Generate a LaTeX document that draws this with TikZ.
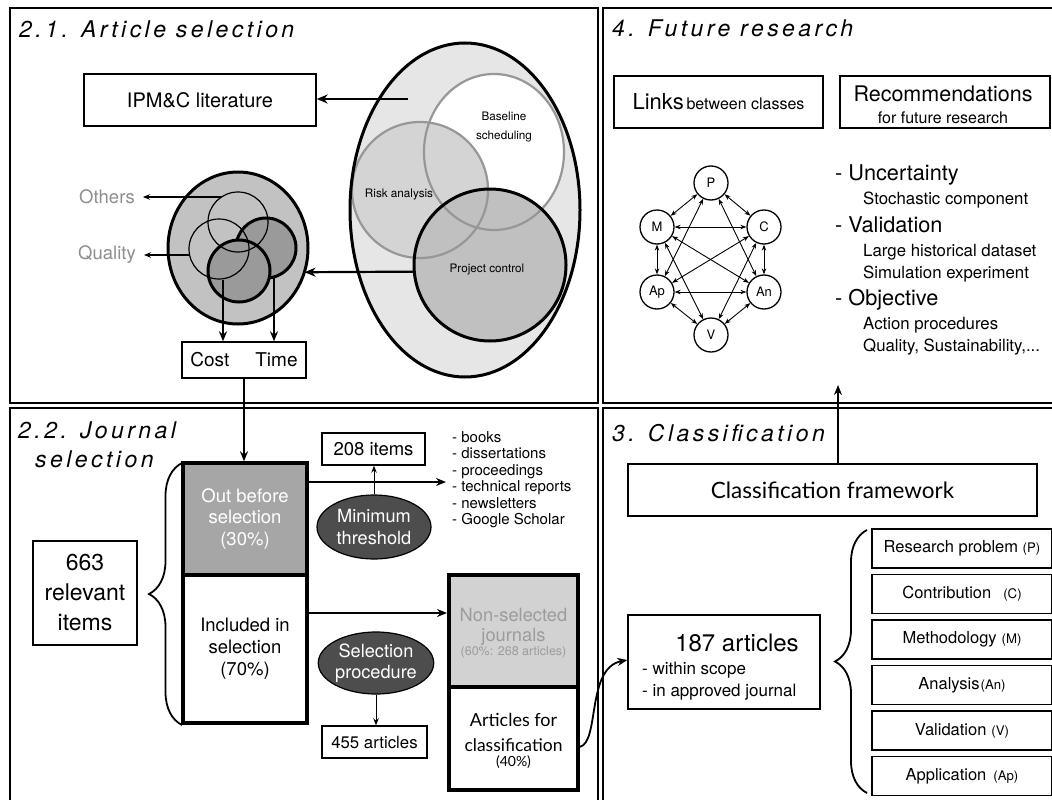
\documentclass[tikz,border=0pt]{standalone}
\usepackage{fontspec}
\setmainfont{TeX Gyre Heros}
\newfontfamily\titlefont[LetterSpace=15]{TeX Gyre Heros}
\newfontfamily\gill{Lato}
\usetikzlibrary{arrows.meta,shapes.geometric,decorations.pathreplacing}
\newcommand{\setfs}[2]{\fontsize{#1}{#2}\selectfont}
\newcommand{\smp}[1]{{\setfs{13.2}{14}#1}}
\definecolor{ellg}{HTML}{E6E6E6}
\definecolor{riskg}{HTML}{D4D4D4}
\definecolor{pcg}{HTML}{C0C0C0}
\definecolor{vennline}{HTML}{979797}
\definecolor{topicg}{HTML}{C2C2C2}
\definecolor{thickg}{HTML}{9A9A9A}
\definecolor{outg}{HTML}{A6A6A6}
\definecolor{nong}{HTML}{D2D2D2}
\definecolor{darkg}{HTML}{4D4D4D}
\definecolor{txtg}{HTML}{8E8E8E}
\definecolor{nontxt}{HTML}{9C9C9C}
\begin{document}
\begin{tikzpicture}[x=1pt,y=-1pt,
  panel/.style={draw, line width=2pt},
  thinbox/.style={draw, line width=1.4pt, inner sep=0pt, align=center},
  thickbox/.style={draw, line width=3.4pt, inner sep=0pt, align=center},
  darkell/.style={ellipse, draw, line width=1.2pt, fill=darkg, text=white, inner sep=0pt, align=center, font=\setfs{18.2}{21.5}},
  bigarrow/.style={line width=2.2pt, -{Stealth[length=11pt,width=9pt]}},
  midarrow/.style={line width=1.8pt, -{Stealth[length=10pt,width=8pt]}},
  smallarrow/.style={line width=1.2pt, -{Stealth[length=7pt,width=5.5pt]}},
  gnode/.style={circle, draw, line width=1.3pt, minimum size=34pt, inner sep=0pt, font=\setfs{13}{15}},
  gedge/.style={line width=0.9pt, {Stealth[length=6pt,width=4.5pt]}-{Stealth[length=6pt,width=4.5pt]}},
  ptitle/.style={anchor=base west, font=\titlefont\itshape\setfs{23}{26}, inner sep=0pt},
  lbl/.style={inner sep=0pt, align=center},
  bracestyle/.style={decorate, line width=1.8pt},
  catbox/.style={draw, line width=1.4pt, minimum width=180pt, minimum height=39pt, inner sep=0pt, font=\setfs{16.5}{18}},
  listitem/.style={anchor=base west, inner sep=0pt}
]
\useasboundingbox (0,0) rectangle (1052,800);
\fill[white] (0,0) rectangle (1052,800);

% ---------- panels ----------
\draw[panel] (10,8) rectangle (598,403);
\draw[panel] (603,8) rectangle (1062,403);
\draw[panel] (10,408) rectangle (598,812);
\draw[panel] (603,408) rectangle (1062,812);

% ---------- 2.1 Article selection ----------
\node[ptitle] (t21) at (19,38) {2.1. Article selection};
\node[thinbox, minimum width=232pt, minimum height=52pt, font=\setfs{20}{22}] (ipm) at (200,100) {IPM\&C literature};

% big ellipse with venn
\fill[ellg] (465,210) ellipse [x radius=115, y radius=167];
\fill[white] (494,152) ellipse [x radius=70, y radius=78];
\fill[riskg] (420,190) circle [radius=68];
\fill[pcg] (490,265) circle [radius=76];
\draw[vennline, line width=2.2pt] (494,152) ellipse [x radius=70, y radius=78];
\draw[vennline, line width=2.2pt] (420,190) circle [radius=68];
\draw[line width=3pt] (490,265) circle [radius=76];
\draw[line width=3pt] (465,210) ellipse [x radius=115, y radius=167];
\node[lbl, font=\setfs{11.7}{19}] (bsl) at (504,127) {Baseline\\scheduling};
\node[lbl, font=\setfs{11.7}{14}] (rsk) at (399,195) {Risk analysis};
\node[lbl, font=\setfs{11.7}{14}] (pctxt) at (487,270) {Project control};
\node[circle, minimum size=152pt, inner sep=0pt] (pc) at (490,265) {};
\coordinate (ipmsrc) at (408,99);
\draw[bigarrow] (ipmsrc) -- (ipm.east |- ipmsrc);

% topic circle
\fill[topicg] (238,248) ellipse [x radius=70, y radius=76];
\draw[line width=3pt] (238,248) ellipse [x radius=70, y radius=76];
\fill[thickg] (266,248) circle [radius=30];
\draw[line width=3pt] (266,248) circle [radius=30];
\fill[thickg] (239,271) circle [radius=31];
\draw[line width=3pt] (239,271) circle [radius=31];
\draw[line width=1.2pt] (238,222) circle [radius=30];
\draw[line width=1.2pt] (219,249) circle [radius=30];
\node[ellipse, minimum width=140pt, minimum height=152pt, inner sep=0pt] (topic) at (238,248) {};
\draw[bigarrow] (pc.185) -- (topic.-20);

\node[lbl, text=txtg, font=\setfs{18.5}{20}, inner xsep=8pt] (others) at (107,197) {Others};
\node[lbl, text=txtg, font=\setfs{18.5}{20}, inner xsep=8pt] (quality) at (107,255) {Quality};
\coordinate (othsrc) at (222,197);
\coordinate (qualsrc) at (189,255);
\draw[smallarrow] (othsrc) -- (others.east);
\draw[smallarrow] (qualsrc) -- (quality.east);

\node[thinbox, minimum width=124pt, minimum height=36pt, font=\setfs{19}{21}] (costtime) at (244,360) {Cost\hspace{26pt}Time};
\coordinate (costsrc) at (223,280);
\coordinate (timesrc) at (274,277);
\draw[midarrow] (costsrc) -- (costsrc |- costtime.north);
\draw[midarrow] (timesrc) -- (timesrc |- costtime.north);

% ---------- 2.2 Journal selection ----------
\node[ptitle] (t22a) at (18,438) {2.2. Journal};
\node[ptitle] (t22b) at (35,467) {selection};

\node[thinbox, minimum width=104pt, minimum height=104pt, font=\setfs{23}{30}] (n663) at (85,593) {663\\relevant\\items};
\draw[bracestyle, decoration={brace, amplitude=33pt}] (182,725) -- (182,463);

\node[thickbox, fill=outg, text=white, minimum width=124pt, minimum height=112pt, font=\setfs{18.5}{21.5}] (outbox) at (245,519) {Out before\\selection\\(30\%)};
\node[thickbox, fill=white, minimum width=124pt, minimum height=148pt, font=\setfs{18.5}{22}] (inbox) at (245,649) {Included in\\selection\\(70\%)};

\draw[midarrow] (costtime.south) -- (costtime.south |- outbox.north);

\node[darkell, minimum width=114pt, minimum height=64pt] (minthr) at (374,527) {Minimum\\threshold};
\node[thinbox, minimum width=103pt, minimum height=32pt, font=\setfs{18.5}{20}] (items208) at (373.5,449) {208 items};
\draw[smallarrow, line width=1pt] (minthr.north) -- (minthr.north |- items208.south);

\node[anchor=north west, inner sep=0pt, align=left, font=\setfs{15}{16.5}] (excl) at (452,431) {- books\\- dissertations\\- proceedings\\- technical reports\\- newsletters\\- Google Scholar};
\coordinate (exclarrow) at (446,482);
\draw[midarrow] (outbox.east |- exclarrow) -- (exclarrow);

\node[darkell, minimum width=114pt, minimum height=62pt] (selproc) at (376,663) {Selection\\procedure};
\node[thinbox, minimum width=105pt, minimum height=32pt, font=\setfs{16.8}{19}] (a455) at (374.5,742) {455 articles};
\draw[smallarrow, line width=1pt] (selproc.south) -- (selproc.south |- a455.north);

\node[thickbox, fill=nong, minimum width=129pt, minimum height=112pt] (nonsel) at (513.5,631) {};
\node[lbl, text=nontxt, font=\setfs{18.3}{20}] (nonseltxt) at (513.5,627) {Non-selected\\journals};
\node[lbl, text=nontxt, font=\setfs{12.5}{14}] (nonselpct) at (513.5,652) {(60\%: 268 articles)};
\node[thickbox, fill=white, minimum width=129pt, minimum height=103pt] (artcl) at (513.5,738.5) {};
\node[lbl, font=\gill\setfs{18}{20}] (artcltxt1) at (513.5,720) {Articles for};
\node[lbl, font=\gill\setfs{17.5}{20}] (artcltxt2) at (513.5,745) {classification};
\node[lbl, font=\gill\setfs{14}{16}] (artcltxt3) at (513.5,762) {(40\%)};
\coordinate (nonarrow) at (447,613);
\draw[midarrow] (inbox.east |- nonarrow) -- (nonarrow);

% ---------- 3 Classification ----------
\node[ptitle] (t3) at (612,441) {3. Classification};
\node[thinbox, minimum width=409pt, minimum height=52pt, font=\gill\setfs{22.5}{24}] (fw) at (832.5,490) {Classification framework};
\coordinate (futarrow) at (838,385);
\draw[midarrow] (fw.north -| futarrow) -- (futarrow);

\node[thinbox, minimum width=192pt, minimum height=94pt] (art187) at (724,662) {};
\node[lbl, font=\setfs{24}{26}] (t187) at (737,643) {187 articles};
\node[listitem, font=\setfs{17}{19}] (scope) at (642,674) {- within scope};
\node[listitem, font=\setfs{17}{19}] (approved) at (642,696) {- in approved journal};

\coordinate (curvestart) at (578,747);
\coordinate (curveend) at (628,660);
\draw[midarrow] (artcl.east |- curvestart) .. controls (600,742) and (586,668) .. (art187.west |- curveend);

\draw[bracestyle, decoration={brace, amplitude=32pt}] (867,793) -- (867,530);
\node[catbox] (cP) at (962,548.5) {Research problem \smp{(P)}};
\node[catbox] (cC) at (962,594) {Contribution\hspace{12pt}\smp{(C)}};
\node[catbox] (cM) at (962,639.5) {Methodology\hspace{5pt}\smp{(M)}};
\node[catbox] (cAn) at (962,685) {Analysis\hspace{1pt}\smp{(An)}};
\node[catbox] (cV) at (962,730.5) {Validation\hspace{5pt}\smp{(V)}};
\node[catbox] (cAp) at (962,776) {Application\hspace{7pt}\smp{(Ap)}};

% ---------- 4 Future research ----------
\node[ptitle] (t4) at (612,37) {4. Future research};
\node[thinbox, minimum width=209pt, minimum height=52pt] (links) at (718.5,102) {{\setfs{22}{24}Links} {\setfs{16}{18}between classes}};
\node[thinbox, minimum width=210pt, minimum height=52pt] (recom) at (945,102) {};
\node[lbl, font=\setfs{21.5}{24}] (recomtxt1) at (943,94) {Recommendations};
\node[lbl, font=\setfs{16}{18}] (recomtxt2) at (943,118) {for future research};

\node[gnode] (P) at (711,183) {P};
\node[gnode] (M) at (657,227) {M};
\node[gnode] (C) at (764,227) {C};
\node[gnode] (Ap) at (657,292) {Ap};
\node[gnode] (An) at (764,292) {An};
\node[gnode] (V) at (711,335) {V};
\foreach \a/\b in {P/M,P/C,M/Ap,C/An,Ap/V,An/V,M/C,Ap/An,M/An,C/Ap,P/Ap,P/An,V/M,V/C}
  \draw[gedge] (\a) -- (\b);

\node[listitem, font=\setfs{21.7}{24}] (unc) at (835,180) {- Uncertainty};
\node[listitem, font=\setfs{16.8}{19}] (stoch) at (863,204) {Stochastic component};
\node[listitem, font=\setfs{21.7}{24}] (valid) at (835,232) {- Validation};
\node[listitem, font=\setfs{16.8}{19}] (large) at (863,256) {Large historical dataset};
\node[listitem, font=\setfs{16.8}{19}] (simu) at (863,278) {Simulation experiment};
\node[listitem, font=\setfs{21.7}{24}] (obj) at (835,305) {- Objective};
\node[listitem, font=\setfs{16.8}{19}] (action) at (863,329) {Action procedures};
\node[listitem, font=\setfs{16.8}{19}] (qual) at (863,351) {Quality, Sustainability,...};
\end{tikzpicture}
\end{document}
